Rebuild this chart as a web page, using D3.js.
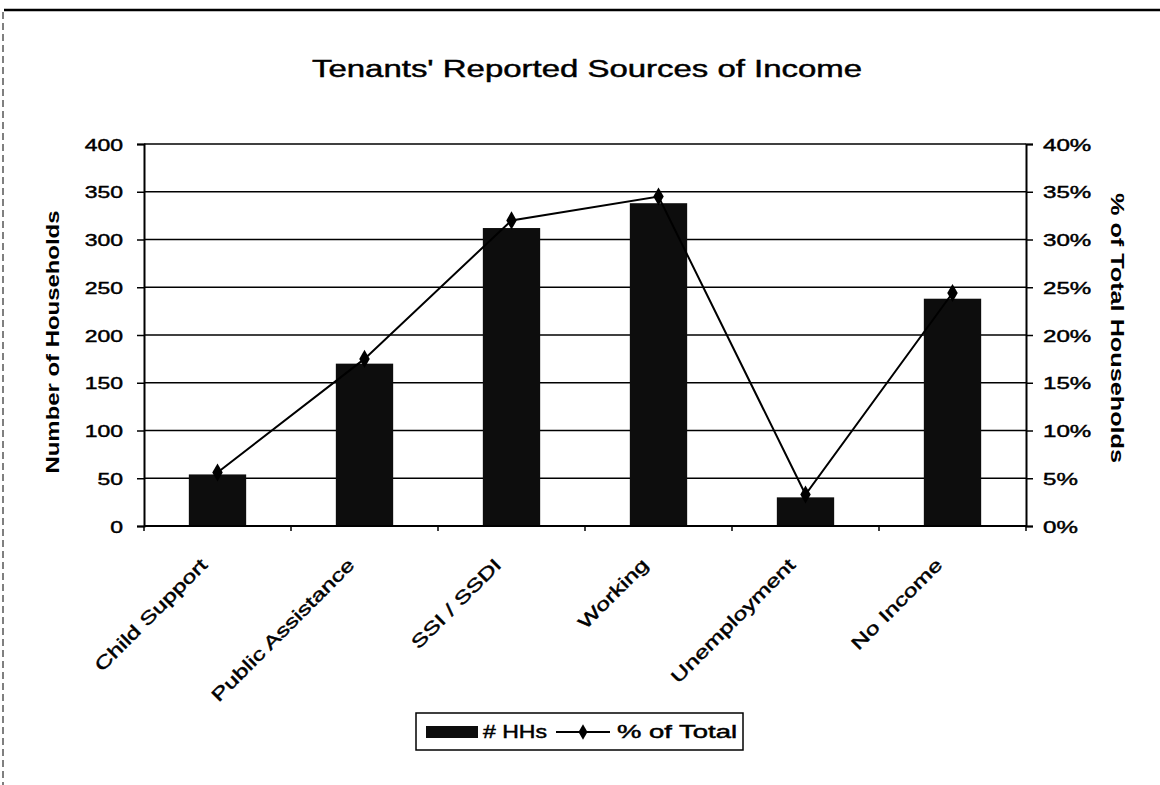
<!DOCTYPE html>
<meta charset="utf-8">
<script src="https://d3js.org/d3.v7.min.js"></script>
<style>
  body { margin: 0; background: #fff; }
  svg text { font-family: "Liberation Sans", Arial, sans-serif; fill: #000; }
  /* scanned lettering is a little heavier than plain regular weight */
  svg text.heavy { stroke: #000; stroke-width: 0.45px; }
</style>
<div id="chart"></div>
<script>
  // data
  var categories = ["Child Support", "Public Assistance", "SSI / SSDI", "Working", "Unemployment", "No Income"];
  var households = [54, 170, 312, 338, 30, 238];
  var pctOfTotal = [5.6, 17.5, 32.0, 34.5, 3.3, 24.4];
  var leftTicks = [0, 50, 100, 150, 200, 250, 300, 350, 400];
  var rightTicks = [0, 5, 10, 15, 20, 25, 30, 35, 40];
  var legendLabels = ["# HHs", "% of Total"];

  var W = 1160, H = 785;
  var margin = {top: 144, right: 134, bottom: 259, left: 144},
      width = W - margin.left - margin.right,
      height = H - margin.top - margin.bottom;

  var svg = d3.select("#chart").append("svg")
      .attr("width", W)
      .attr("height", H);

  // the scan's lettering is wide, so stretch text along its baseline
  function widen(sel, k) {
    sel.each(function() {
      var w = this.getComputedTextLength();
      d3.select(this).attr("textLength", w * k).attr("lengthAdjust", "spacingAndGlyphs");
    });
  }

  // page frame: heavy top rule and dashed left edge
  svg.append("line")
    .attr("x1", 4).attr("x2", W).attr("y1", 10).attr("y2", 10)
    .attr("stroke", "#000").attr("stroke-width", 2.5);
  svg.append("line")
    .attr("x1", 3).attr("x2", 3).attr("y1", 12).attr("y2", H)
    .attr("stroke", "#000").attr("stroke-width", 1)
    .attr("stroke-dasharray", "7,4");

  svg.append("text")
    .attr("class", "heavy")
    .attr("x", 587)
    .attr("y", 77)
    .attr("text-anchor", "middle")
    .style("font-size", "23px")
    .attr("textLength", 550)
    .attr("lengthAdjust", "spacingAndGlyphs")
    .text("Tenants' Reported Sources of Income");

  var g = svg.append("g")
    .attr("transform", "translate(" + margin.left + "," + margin.top + ")");

  var x = d3.scaleBand()
    .domain(categories)
    .range([0, width])
    .paddingInner(0.61)
    .paddingOuter(0.305);

  var y = d3.scaleLinear().domain([0, 400]).range([height, 0]);
  var y2 = d3.scaleLinear().domain([0, 40]).range([height, 0]);

  // gridlines
  g.append("g")
    .selectAll("line")
    .data(leftTicks)
    .enter().append("line")
      .attr("x1", 0).attr("x2", width)
      .attr("y1", d => y(d)).attr("y2", d => y(d))
      .attr("stroke", "#000").attr("stroke-width", 1.6);

  // bars
  g.selectAll("rect.bar")
    .data(categories)
    .enter().append("rect")
      .attr("class", "bar")
      .attr("x", d => x(d))
      .attr("y", (d, i) => y(households[i]))
      .attr("width", x.bandwidth())
      .attr("height", (d, i) => height - y(households[i]))
      .attr("fill", "#0d0d0d");

  // left axis
  var yAxis = g.append("g")
    .call(d3.axisLeft(y).tickValues(leftTicks).tickSize(7).tickPadding(14));
  yAxis.select(".domain").attr("stroke-width", 2);
  yAxis.selectAll(".tick line").attr("stroke-width", 1.5);
  yAxis.selectAll("text").attr("class", "heavy")
    .style("font-size", "17px").attr("dy", "0.36em").call(widen, 1.35);

  // right axis
  var y2Axis = g.append("g")
    .attr("transform", "translate(" + width + ",0)")
    .call(d3.axisRight(y2).tickValues(rightTicks).tickSize(7).tickPadding(10)
      .tickFormat(d => d + "%"));
  y2Axis.select(".domain").attr("stroke-width", 2);
  y2Axis.selectAll(".tick line").attr("stroke-width", 1.5);
  y2Axis.selectAll("text").attr("class", "heavy")
    .style("font-size", "17px").attr("dy", "0.36em").call(widen, 1.42);

  // category axis: ticks on the band edges, labels at 45 degrees
  var edges = categories.map(d => x(d) - x.step() * x.paddingInner() / 2).concat([width]);
  g.append("line")
    .attr("x1", 0).attr("x2", width).attr("y1", height).attr("y2", height)
    .attr("stroke", "#000").attr("stroke-width", 2);
  g.selectAll("line.xtick")
    .data(edges)
    .enter().append("line")
      .attr("class", "xtick")
      .attr("x1", d => d).attr("x2", d => d)
      .attr("y1", height).attr("y2", height + 5)
      .attr("stroke", "#000").attr("stroke-width", 1.5);
  g.selectAll("text.xlab")
    .data(categories)
    .enter().append("text")
      .attr("class", "xlab heavy")
      .attr("text-anchor", "end")
      .attr("transform", d => "translate(" + (x(d) + x.bandwidth() / 2 - 9) + "," + (height + 40) + ") rotate(-45)")
      .style("font-size", "18px")
      .text(d => d)
      .call(widen, 1.38);

  // percentage line with diamond markers
  var line = d3.line()
    .x(d => x(d) + x.bandwidth() / 2)
    .y((d, i) => y2(pctOfTotal[i]));
  g.append("path")
    .datum(categories)
    .attr("d", line)
    .attr("fill", "none")
    .attr("stroke", "#000")
    .attr("stroke-width", 2);
  g.selectAll("path.marker")
    .data(categories)
    .enter().append("path")
      .attr("class", "marker")
      .attr("d", d3.symbol().type(d3.symbolDiamond).size(95))
      .attr("transform", (d, i) => "translate(" + (x(d) + x.bandwidth() / 2) + "," + y2(pctOfTotal[i]) + ")")
      .attr("fill", "#000");

  // axis titles
  svg.append("text")
    .attr("text-anchor", "middle")
    .attr("transform", "translate(59,342) rotate(-90)")
    .style("font-size", "18px")
    .style("font-weight", "bold")
    .attr("textLength", 263)
    .attr("lengthAdjust", "spacingAndGlyphs")
    .text("Number of Households");

  svg.append("text")
    .attr("text-anchor", "middle")
    .attr("transform", "translate(1111,328) rotate(90)")
    .style("font-size", "18px")
    .style("font-weight", "bold")
    .attr("textLength", 270)
    .attr("lengthAdjust", "spacingAndGlyphs")
    .text("% of Total Households");

  // legend
  var lg = svg.append("g").attr("transform", "translate(416,713)");
  lg.append("rect")
    .attr("width", 327).attr("height", 37)
    .attr("fill", "#fff").attr("stroke", "#000").attr("stroke-width", 1.5);
  lg.append("rect")
    .attr("x", 10).attr("y", 13).attr("width", 52).attr("height", 12)
    .attr("fill", "#0d0d0d");
  lg.append("text")
    .attr("class", "heavy")
    .attr("x", 67).attr("y", 25)
    .style("font-size", "18px")
    .attr("textLength", 64)
    .attr("lengthAdjust", "spacingAndGlyphs")
    .text(legendLabels[0]);
  lg.append("line")
    .attr("x1", 140).attr("x2", 194).attr("y1", 19).attr("y2", 19)
    .attr("stroke", "#000").attr("stroke-width", 2);
  lg.append("path")
    .attr("d", d3.symbol().type(d3.symbolDiamond).size(70))
    .attr("transform", "translate(167,19)")
    .attr("fill", "#000");
  lg.append("text")
    .attr("class", "heavy")
    .attr("x", 201).attr("y", 25)
    .style("font-size", "18px")
    .attr("textLength", 120)
    .attr("lengthAdjust", "spacingAndGlyphs")
    .text(legendLabels[1]);
</script>
